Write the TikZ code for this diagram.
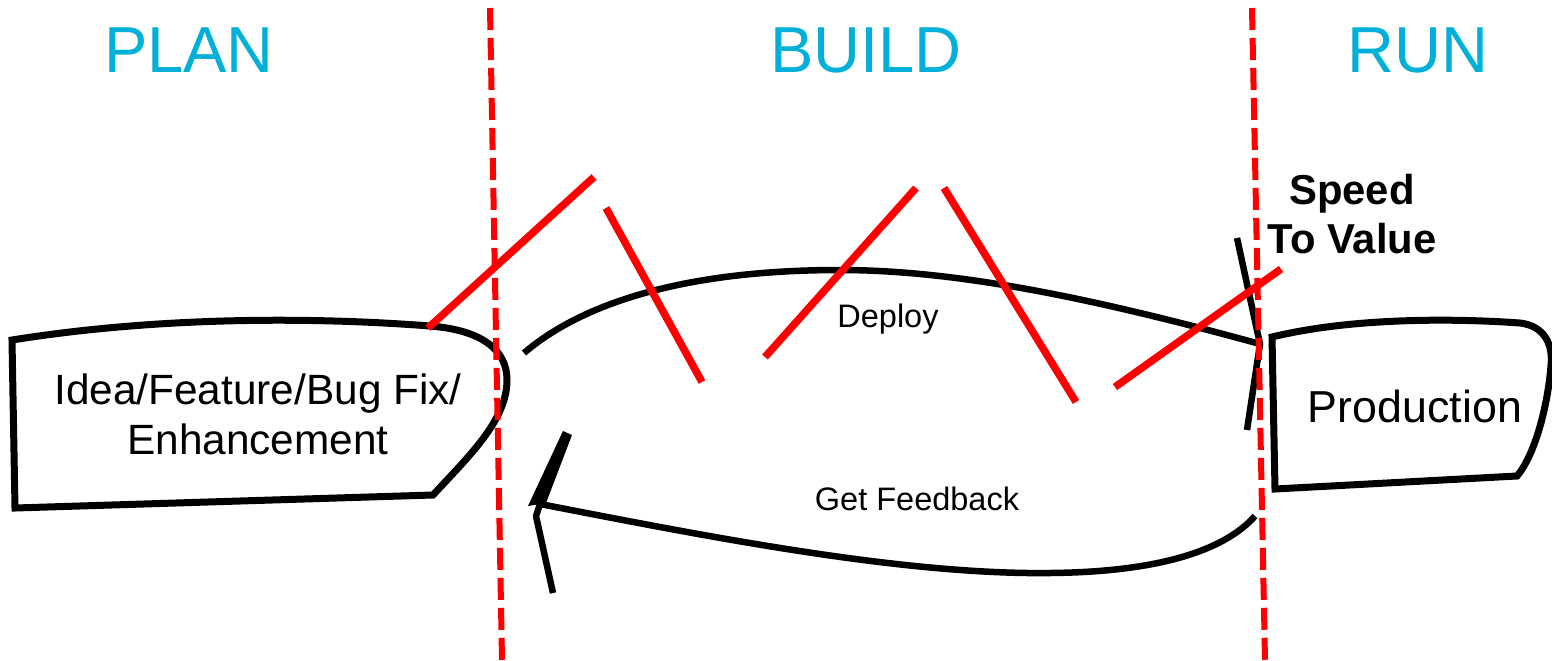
\documentclass[tikz,border=0pt]{standalone}
\usepackage{fontspec}
\setmainfont{Liberation Sans}
\definecolor{phasecol}{RGB}{0,176,216}
\definecolor{slashred}{RGB}{255,0,0}
\begin{document}
\begin{tikzpicture}[x=0.02cm,y=-0.02cm,
  phase/.style={text=phasecol,font=\fontsize{37}{40}\selectfont,anchor=base,inner sep=0pt},
  boxline/.style={draw=black,line width=0.14cm,line join=miter},
  flow/.style={draw=black,line width=0.13cm},
  wall/.style={draw=slashred,line width=0.12cm,dash pattern=on 0.44cm off 0.16cm},
  slash/.style={draw=slashred,line width=0.15cm},
  boxtext/.style={font=\fontsize{24.1}{28.4}\selectfont,align=center,inner sep=0pt},
  prodtext/.style={font=\fontsize{25.5}{28.4}\selectfont,inner sep=0pt},
  flowtext/.style={font=\fontsize{18.5}{20}\selectfont,anchor=base,inner sep=0pt},
  speedtext/.style={font=\bfseries\fontsize{23.8}{28.4}\selectfont,align=center,inner sep=0pt}]
\useasboundingbox (0,0) rectangle (1552,660);

% phase titles
\node[phase] (plan) at (189,72) {PLAN};
\node[phase] (build) at (866,72) {BUILD};
\node[phase] (run) at (1418,72) {RUN};

% left box
\draw[boxline] (12,340) .. controls (150,318) and (300,316) .. (430,326)
  .. controls (482,330) and (507,350) .. (507,380)
  .. controls (507,420) and (470,455) .. (433,495) -- (15,508) -- cycle;
\node[boxtext] (idea) at (258,414) {Idea/Feature/Bug Fix/\\Enhancement};

% right box
\draw[boxline] (1272,337) .. controls (1350,318) and (1450,318) .. (1520,323)
  .. controls (1545,326) and (1553,345) .. (1551,365)
  .. controls (1548,405) and (1535,455) .. (1517,476) -- (1275,489) -- cycle;
\node[prodtext] (prod) at (1415,406) {Production};

% deploy arc
\coordinate (dstart) at (524,353);
\coordinate (dpeak) at (840,270);
\coordinate (ttip) at (1260,344);
\coordinate (tbarbA) at (1237,238);
\coordinate (tbarbB) at (1247,430);
\draw[flow] (dstart) .. controls (580,305) and (680,270) .. (dpeak)
  .. controls (960,270) and (1100,300) .. (ttip);
\draw[flow,line join=miter] (tbarbA) -- (ttip) -- (tbarbB);
\node[flowtext] (deploy) at (888,327) {Deploy};

% feedback arc
\coordinate (fstart) at (1255,516);
\coordinate (flow) at (1050,573);
\coordinate (ftip) at (540,504);
\draw[flow] (fstart) .. controls (1225,550) and (1160,572) .. (flow)
  .. controls (900,575) and (700,535) .. (ftip);
\coordinate (bwA) at (563,431);
\coordinate (bwB) at (572,435);
\coordinate (bwC) at (546,503);
\coordinate (bwD) at (528,506);
\fill[black] (bwA) -- (bwB) -- (bwC) -- (bwD) -- cycle;
\coordinate (bbend) at (536,516);
\coordinate (bbarb) at (553,593);
\draw[flow,line join=round] (ftip) -- (bbend) -- (bbarb);
\node[flowtext] (feedback) at (917,510) {Get Feedback};

% dashed phase walls
\coordinate (w1a) at (490,8);
\coordinate (w1b) at (502,660);
\coordinate (w2a) at (1252,8);
\coordinate (w2b) at (1265,660);
\draw[wall] (w1a) -- (w1b);
\draw[wall] (w2a) -- (w2b);

% red slashes
\coordinate (s1a) at (428,328); \coordinate (s1b) at (594,177);
\coordinate (s2a) at (606,208); \coordinate (s2b) at (702,382);
\coordinate (s3a) at (765,357); \coordinate (s3b) at (916,188);
\coordinate (s4a) at (944,188); \coordinate (s4b) at (1076,402);
\coordinate (s5a) at (1115,387); \coordinate (s5b) at (1281,269);
\draw[slash] (s1a) -- (s1b);
\draw[slash] (s2a) -- (s2b);
\draw[slash] (s3a) -- (s3b);
\draw[slash] (s4a) -- (s4b);
\draw[slash] (s5a) -- (s5b);

% speed to value
\node[speedtext] (speed) at (1352,214) {Speed\\To Value};
\end{tikzpicture}
\end{document}
